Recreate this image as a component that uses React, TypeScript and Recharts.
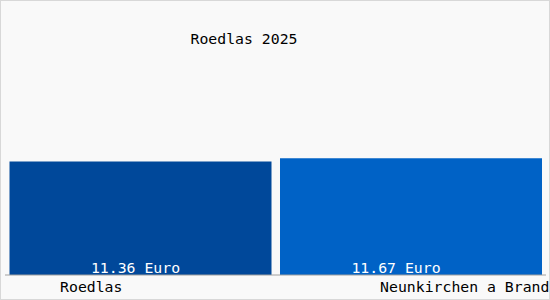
import { Bar, BarChart, Cell, LabelList, XAxis, YAxis } from "recharts";

const places = ["Roedlas", "Neunkirchen a Brand"];
const wages = [11.36, 11.67];
const barColors = ["#00489a", "#0062c6"];
const unit = "Euro";
const title = "Roedlas 2025";

const data = places.map((name, i) => ({ name, value: wages[i] }));

const FONT = "'DejaVu Sans Mono', monospace";

function PlaceTick(props: any) {
  const { x, y, payload, index } = props;
  // first label sits left of its bar, last one hugs the right edge
  const dx = index === 0 ? -49 : 54;
  return (
    <text
      x={x + dx}
      y={y}
      dy={9}
      textAnchor="middle"
      fontFamily={FONT}
      fontSize={14.8}
      fill="#000"
    >
      {payload.value}
    </text>
  );
}

function ValueLabel(props: any) {
  const { x, y, width, height, value, index } = props;
  const dx = index === 0 ? -5 : -15;
  return (
    <text
      x={x + width / 2 + dx}
      y={y + height - 2}
      textAnchor="middle"
      fontFamily={FONT}
      fontSize={14.8}
      fill="#fff"
    >
      {value.toFixed(2)} {unit}
    </text>
  );
}

export default function App() {
  return (
    <div
      style={{
        position: "absolute",
        left: 0,
        top: 0,
        width: 550,
        height: 300,
        background: "#f9f9f9",
        boxSizing: "border-box",
        border: "1px solid #d8d8d8",
      }}
    >
      <div
        style={{
          position: "absolute",
          left: 0,
          width: 486,
          top: 29,
          textAlign: "center",
          fontFamily: FONT,
          fontSize: 14.8,
          color: "#000",
        }}
      >
        {title}
      </div>
      <BarChart
        width={548}
        height={298}
        data={data}
        margin={{ top: 74, right: 3, bottom: 0, left: 4 }}
        barCategoryGap={4.5}
      >
        <XAxis
          dataKey="name"
          axisLine={{ stroke: "#a0a0a0" }}
          tickLine={false}
          tick={<PlaceTick />}
          height={24}
          interval={0}
        />
        <YAxis hide domain={[0, 20]} />
        <Bar dataKey="value" isAnimationActive={false}>
          {data.map((d, i) => (
            <Cell key={d.name} fill={barColors[i]} />
          ))}
          <LabelList dataKey="value" content={<ValueLabel />} />
        </Bar>
      </BarChart>
    </div>
  );
}
